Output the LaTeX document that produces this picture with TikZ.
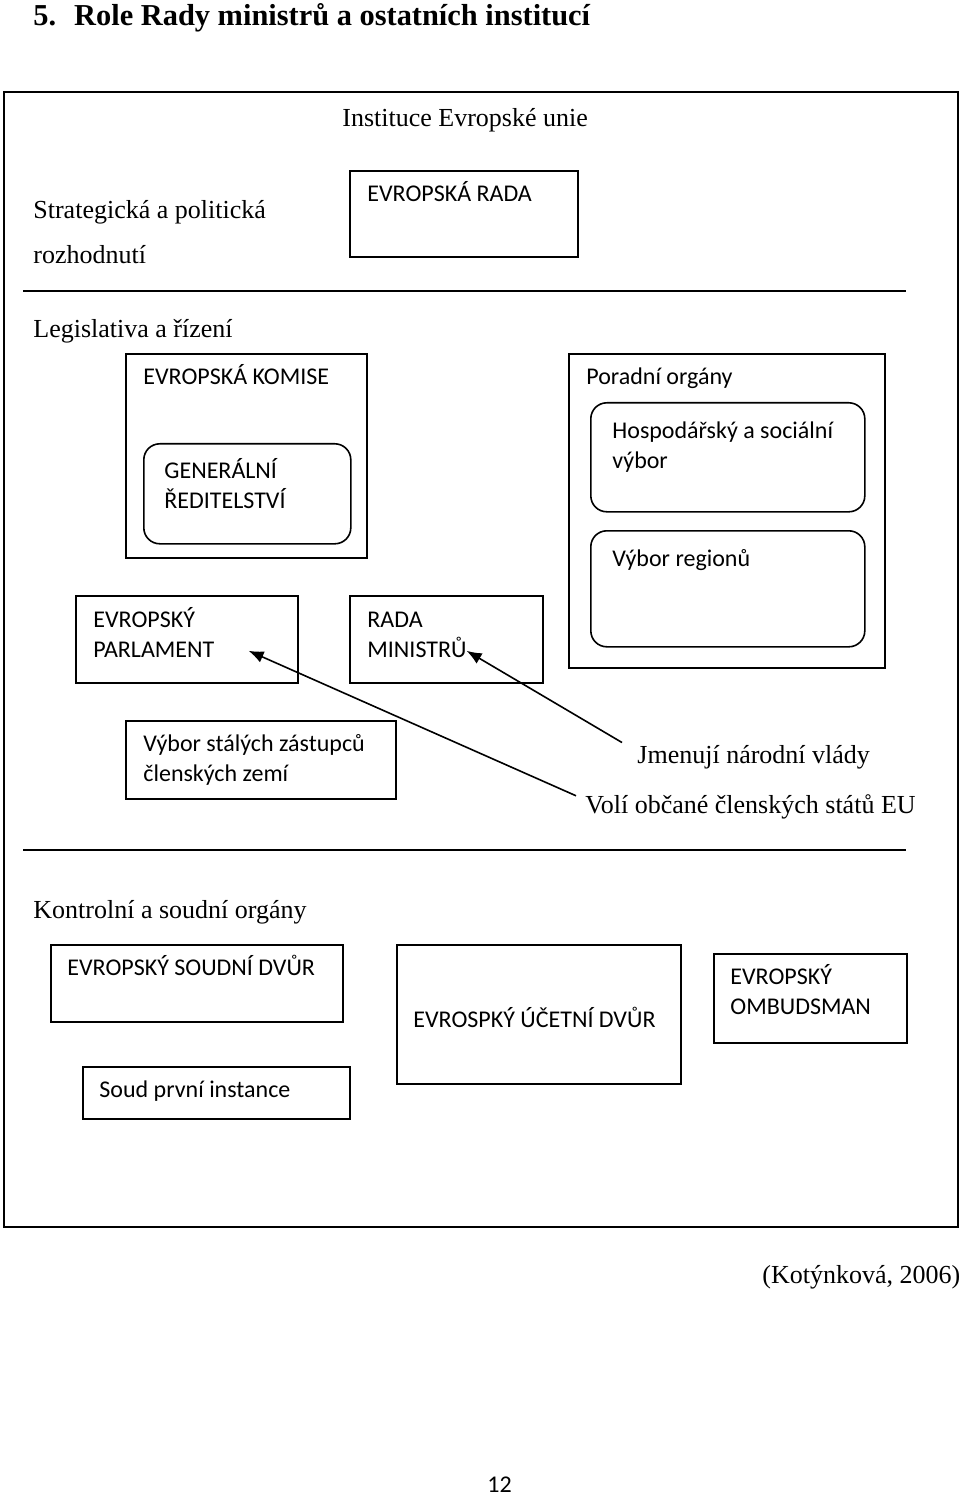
\documentclass[tikz,border=0pt]{standalone}
\usepackage{fontspec}
\setmainfont{Liberation Serif}
\newfontfamily\calibri{Carlito}
\usetikzlibrary{arrows.meta,positioning}

\begin{document}
\begin{tikzpicture}[
  x=0.5pt, y=-0.5pt,
  box/.style={draw, line width=0.8pt, anchor=north west, inner sep=0pt},
  rbox/.style={box, rounded corners=8pt},
  txt/.style={font=\calibri\fontsize{12}{15}\selectfont, align=left, inner sep=0pt},
  stext/.style={font=\fontsize{13}{15}\selectfont, inner sep=0pt, anchor=base west},
  sep/.style={line width=0.9pt},
  arrow/.style={-{Latex[length=7.5pt,width=6pt]}, line width=0.8pt},
]
\useasboundingbox (0,0) rectangle (960,1497);

\node[stext, font=\bfseries\fontsize{15.2}{18}\selectfont] (title) at (33,26)
  {5.\hspace{9pt}Role Rady ministrů a ostatních institucí};
\node[box, minimum width=477pt, minimum height=567.5pt] (frame) at (3,91) {};

% strategicka rovina
\node[stext] (inst) at (342,127) {Instituce Evropské unie};
\node[stext, font=\fontsize{13}{22.5}\selectfont, align=left, anchor=north west]
  (strat) at (33,200.5) {Strategická a politická\\rozhodnutí};
\node[box, minimum width=114pt, minimum height=43pt] (rada) at (349,170) {};
\node[txt, below right=5.5pt and 9pt of rada.north west] (radaT) {EVROPSKÁ RADA};

\draw[sep] (23,291) -- (906,291);

% legislativa
\node[stext] (legis) at (33,338) {Legislativa a řízení};
\node[box, minimum width=120.5pt, minimum height=102pt] (komise) at (125,353) {};
\node[txt, below right=5.5pt and 9pt of komise.north west] (komiseT) {EVROPSKÁ KOMISE};
\node[rbox, minimum width=103.5pt, minimum height=50pt] (gen) at (143,443) {};
\node[txt, below right=7.5pt and 10.5pt of gen.north west] (genT) {GENERÁLNÍ\\ŘEDITELSTVÍ};

\node[box, minimum width=158pt, minimum height=157pt] (porad) at (568,353) {};
\node[txt, below right=7pt and 9pt of porad.north west] (poradT) {Poradní orgány};
\node[rbox, minimum width=137pt, minimum height=54.5pt] (hosp) at (590,402) {};
\node[txt, below right=9.5pt and 11pt of hosp.north west] (hospT) {Hospodářský a sociální\\výbor};
\node[rbox, minimum width=137pt, minimum height=58pt] (regio) at (590,530) {};
\node[txt, below right=9.5pt and 11pt of regio.north west] (regioT) {Výbor regionů};

\node[box, minimum width=111pt, minimum height=43.5pt] (parl) at (75,595) {};
\node[txt, below right=6pt and 9pt of parl.north west] (parlT) {EVROPSKÝ\\PARLAMENT};
\node[box, minimum width=96.5pt, minimum height=43.5pt] (radam) at (349,595) {};
\node[txt, below right=8.5pt and 9pt of radam.north west] (radamT) {RADA\\MINISTRŮ};
\node[box, minimum width=135pt, minimum height=39pt] (coreper) at (125,720) {};
\node[txt, below right=7pt and 9pt of coreper.north west] (coreperT) {Výbor stálých zástupců\\členských zemí};

\node[stext] (jmen) at (637,763) {Jmenují národní vlády};
\node[stext] (voli) at (585,813) {Volí občané členských států EU};
\draw[arrow] ([shift={(-15,-2)}]jmen.north west) -- ([shift={(-77,11.5)}]radam.east);
\draw[arrow] ([shift={(-9,2)}]voli.north west) -- ([shift={(-50,11.5)}]parl.east);

\draw[sep] (23,850) -- (906,850);

% kontrola
\node[stext] (kontr) at (33,918) {Kontrolní a soudní orgány};
\node[box, minimum width=146pt, minimum height=38.5pt] (soud) at (50,944) {};
\node[txt, below right=5.5pt and 8.5pt of soud.north west] (soudT) {EVROPSKÝ SOUDNÍ DVŮR};
\node[box, minimum width=142pt, minimum height=69.5pt] (ucet) at (396,944) {};
\node[txt, below right=31.5pt and 8.5pt of ucet.north west] (ucetT) {EVROSPKÝ ÚČETNÍ DVŮR};
\node[box, minimum width=96.5pt, minimum height=44.5pt] (ombud) at (713,953) {};
\node[txt, below right=5.5pt and 8.5pt of ombud.north west] (ombudT) {EVROPSKÝ\\OMBUDSMAN};
\node[box, minimum width=133.5pt, minimum height=26pt] (spi) at (82,1066) {};
\node[txt, below right=7pt and 8.5pt of spi.north west] (spiT) {Soud první instance};

\node[stext] (zdroj) at (762,1283) {(Kotýnková, 2006)};
\node[stext, font=\calibri\fontsize{12}{14}\selectfont] (strana) at (487,1492) {12};
\end{tikzpicture}
\end{document}
